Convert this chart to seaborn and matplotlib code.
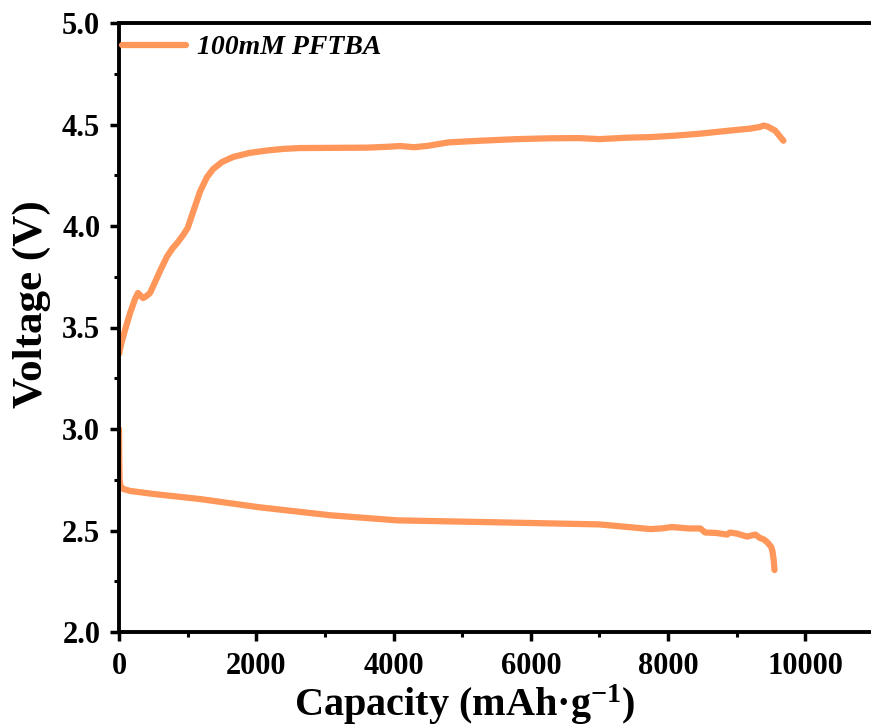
import matplotlib
matplotlib.use("Agg")
import matplotlib.pyplot as plt
import seaborn as sns
import pandas as pd
from matplotlib.ticker import MultipleLocator

sns.set_style("ticks")
plt.rcParams['font.family'] = ['Liberation Serif', 'DejaVu Serif']
plt.rcParams['font.weight'] = 'bold'
plt.rcParams['mathtext.fontset'] = 'custom'
plt.rcParams['mathtext.rm'] = 'Liberation Serif:bold'
plt.rcParams['mathtext.bf'] = 'Liberation Serif:bold'
plt.rcParams['mathtext.it'] = 'Liberation Serif:bold:italic'
for k in ['text.color', 'axes.labelcolor', 'xtick.color', 'ytick.color', 'axes.edgecolor']:
    plt.rcParams[k] = 'black'

# Charge curve (capacity mAh/g, voltage V)
charge_cap = [0, 40, 90, 160, 233, 277, 320, 350, 400, 452, 520, 600, 700, 780, 845,
              933, 1000, 1080, 1181, 1280, 1370, 1500, 1662, 1900, 2157, 2400, 2638,
              3120, 3615, 3900, 4096, 4300, 4500, 4800, 5260, 5800, 6280, 6700, 7000,
              7400, 7740, 8100, 8470, 8900, 9200, 9340, 9390, 9450, 9560, 9680]
charge_v = [3.37, 3.43, 3.49, 3.57, 3.64, 3.67, 3.655, 3.645, 3.655, 3.67, 3.72, 3.78,
            3.85, 3.89, 3.915, 3.955, 3.99, 4.07, 4.17, 4.24, 4.28, 4.315, 4.34, 4.36,
            4.372, 4.38, 4.384, 4.385, 4.386, 4.39, 4.394, 4.388, 4.395, 4.412, 4.42,
            4.428, 4.432, 4.433, 4.428, 4.435, 4.438, 4.445, 4.455, 4.47, 4.48, 4.488,
            4.495, 4.49, 4.47, 4.42]

# Discharge curve
discharge_cap = [0, 3, 8, 20, 60, 160, 500, 1180, 2030, 3080, 4050, 5550, 7000, 7740,
                 7900, 8060, 8300, 8470, 8540, 8700, 8860, 8900, 9000, 9150, 9270, 9340,
                 9400, 9450, 9500, 9520, 9540, 9550]
discharge_v = [3.0, 2.85, 2.75, 2.72, 2.705, 2.695, 2.68, 2.655, 2.615, 2.575, 2.55,
               2.54, 2.53, 2.507, 2.51, 2.517, 2.51, 2.51, 2.49, 2.488, 2.48, 2.49, 2.485,
               2.47, 2.48, 2.463, 2.455, 2.44, 2.42, 2.40, 2.35, 2.305]

x_ticks = [0, 2000, 4000, 6000, 8000, 10000]
x_ticklabels = ["0", "2000", "4000", "6000", "8000", "10000"]
y_ticks = [2.0, 2.5, 3.0, 3.5, 4.0, 4.5, 5.0]
y_ticklabels = ["2.0", "2.5", "3.0", "3.5", "4.0", "4.5", "5.0"]

series_label = "100mM PFTBA"
color = "#FF965A"

fig = plt.figure(figsize=(8.71, 7.26), dpi=100)
ax = fig.add_axes([119/871, 1 - 632/726, (874 - 119)/871, (632 - 23)/726])

df_c = pd.DataFrame({"cap": charge_cap, "v": charge_v})
df_d = pd.DataFrame({"cap": discharge_cap, "v": discharge_v})
sns.lineplot(data=df_c, x="cap", y="v", sort=False, estimator=None, color=color,
             lw=4.5, label=series_label, ax=ax, solid_capstyle='round')
sns.lineplot(data=df_d, x="cap", y="v", sort=False, estimator=None, color=color,
             lw=4.5, ax=ax, solid_capstyle='round')

ax.set_xlim(0, 11000)
ax.set_ylim(2.0, 5.0)
ax.xaxis.set_minor_locator(MultipleLocator(1000))
ax.yaxis.set_minor_locator(MultipleLocator(0.25))
ax.set_xticks(x_ticks)
ax.set_xticklabels(x_ticklabels)
ax.set_yticks(y_ticks)
ax.set_yticklabels(y_ticklabels)

for s in ax.spines.values():
    s.set_linewidth(2.8)
    s.set_color("black")
ax.tick_params(which='major', direction='out', length=6.5, width=2.5,
               labelsize=22, color='black')
ax.tick_params(axis='x', which='major', pad=8)
ax.tick_params(axis='y', which='major', pad=7)
ax.tick_params(which='minor', direction='out', length=3.5, width=2.2, color='black')
for lab in ax.get_xticklabels() + ax.get_yticklabels():
    lab.set_fontweight('bold')

ax.set_xlabel(r"Capacity (mAh·g$^{-1}$)", fontsize=29, fontweight='bold', labelpad=1)
ax.xaxis.label.set_x(0.458)
ax.set_ylabel("Voltage (V)", fontsize=31, fontweight='bold', labelpad=8)
ax.yaxis.label.set_y(0.539)

leg = ax.legend(loc='upper left', bbox_to_anchor=(0.0, 0.985), frameon=False,
                handlelength=2.3, handletextpad=0.4, borderaxespad=0.0, borderpad=0.1,
                prop={'family': 'Liberation Serif', 'weight': 'bold',
                      'style': 'italic', 'size': 20})

fig.savefig("out.png", dpi=100)
